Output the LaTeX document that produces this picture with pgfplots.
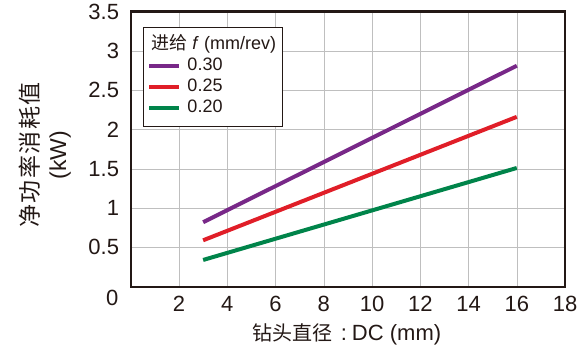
\documentclass[border=0pt]{standalone}
\usepackage{fontspec}
\setmainfont{Liberation Sans}
\newfontfamily\cjk{Noto Sans CJK SC}
\usepackage{pgfplots}
\pgfplotsset{compat=1.18}
\usetikzlibrary{calc}
\definecolor{cpurple}{RGB}{120,40,136}
\definecolor{cred}{RGB}{224,30,40}
\definecolor{cgreen}{RGB}{0,132,74}
\definecolor{cdark}{RGB}{35,24,21}
\begin{document}
\begin{tikzpicture}
\path (0pt,0pt) rectangle (585pt,356pt);
\begin{axis}[
  at={(130.75pt,69.3pt)}, anchor=south west,
  scale only axis, width=434.25pt, height=275.2pt,
  xmin=0, xmax=18, ymin=0, ymax=3.5,
  clip=false,
  xtick={2,4,6,8,10,12,14,16,18}, ytick={0.5,1,1.5,2,2.5,3,3.5},
  yticklabels={0.5,1,1.5,2,2.5,3,3.5},
  xticklabels={2,4,6,8,10,12,14,16,18},
  tick style={black!25},
  grid=major,
  axis line style={color=cdark, line width=2.4pt},
  /pgf/number format/assume math mode=true,
  ticklabel style={font=\fontsize{22}{26}\selectfont, text=cdark},
  yticklabel style={inner sep=0pt, xshift=-11.5pt},
  xticklabel style={inner sep=0pt, yshift=-9pt},
  xlabel={{\cjk\fontsize{20}{24}\selectfont 钻头直径}\kern8pt:\kern5pt DC (mm)},
  xlabel style={font=\fontsize{22}{26}\selectfont, text=cdark, at={(axis description cs:0.498,-0.172)}, anchor=center},
  ylabel={{\cjk 净\kern1.5pt功\kern1.5pt率\kern1.5pt消\kern1.5pt耗\kern1.5pt值}\\(kW)},
  ylabel style={font=\fontsize{23}{28}\selectfont, text=cdark, align=center, at={(axis description cs:-0.198,0.478)}, anchor=center},
  legend style={at={(axis description cs:0.0282,0.9437)}, anchor=north west,
    draw=cdark, line width=1pt, font=\fontsize{18}{21}\selectfont, text=cdark,
    row sep=0pt, column sep=4pt, inner xsep=4pt, inner ysep=7.5pt, fill=white,
    nodes={inner sep=2pt, text height=13pt, text depth=4pt}},
  legend cell align=left,
  legend image code/.code={\draw[#1, line width=4pt] (0pt,0pt) -- (30pt,0pt);},
]
\addlegendimage{empty legend}
\addlegendentry{\hspace{-36pt}{\cjk 进给} \textit{f} (mm/rev)\hspace{5pt}}
\addplot[cpurple, line width=4pt] coordinates {(3,0.82) (16,2.81)};
\addlegendentry{0.30}
\addplot[cred, line width=4pt] coordinates {(3,0.59) (16,2.16)};
\addlegendentry{0.25}
\addplot[cgreen, line width=4pt] coordinates {(3,0.34) (16,1.51)};
\addlegendentry{0.20}
\node[font=\fontsize{22}{26}\selectfont, text=cdark] at ($(rel axis cs:0,0)+(-18.5pt,-11.5pt)$) {0};
\end{axis}
\end{tikzpicture}
\end{document}
